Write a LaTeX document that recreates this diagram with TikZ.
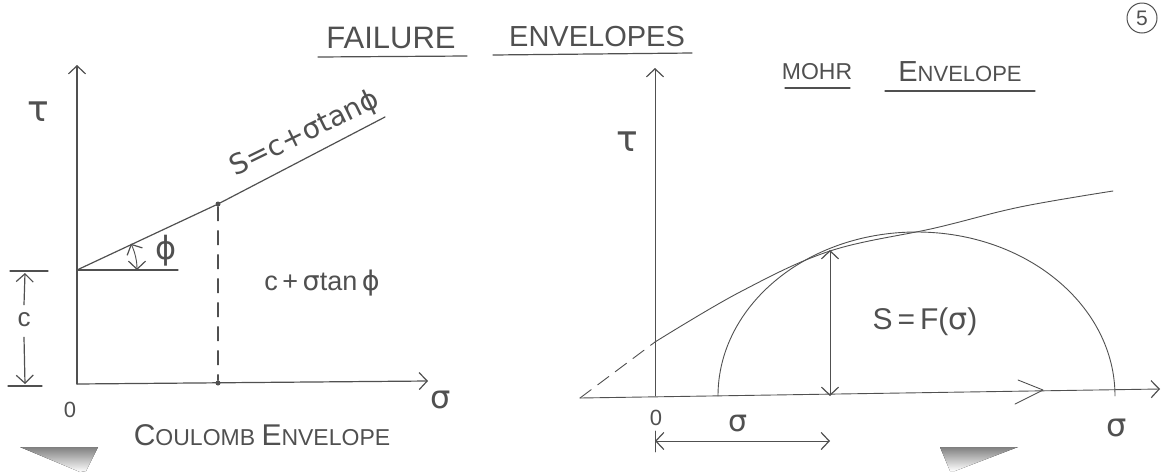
\documentclass[tikz,border=0pt]{standalone}
\usepackage{fontspec}
\setmainfont{Liberation Sans}
\newfontfamily\grk{DejaVu Sans}
\usetikzlibrary{arrows.meta}
\definecolor{ink}{RGB}{80,80,80}
\definecolor{shade}{RGB}{200,200,200}
\newcommand\hsz[1]{\fontsize{#1}{#1}\selectfont}
\begin{document}
\begin{tikzpicture}[x=1pt,y=-1pt,
  pen/.style={draw=ink,line width=1.2pt,line cap=round,line join=round},
  thinpen/.style={draw=ink,line width=0.9pt,line cap=round,line join=round},
  lbl/.style={text=ink,inner sep=0pt},
  >={Straight Barb[length=8pt,width=17pt,line width=1.2pt]},
  dotm/.style={fill=ink,circle,inner sep=0pt,minimum size=5pt}]
\useasboundingbox (0,0) rectangle (1168,472);
% scan shading
\fill[shade] (20,447) -- (98,447) -- (86,471) -- (80,472) -- cycle;
\fill[shade] (940,447) -- (1018,447) -- (955,471) -- (950,471) -- cycle;
% title
\node[lbl,font=\hsz{31}] (fail) at (391,38) {FAILURE};
\node[lbl,font=\hsz{29}] (envs) at (597,37) {ENVELOPES};
\draw[pen] (318,57) -- (467,56);
\draw[pen] (493,55) -- (692,53);
\node[lbl,draw=ink,circle,minimum size=30pt,line width=1pt,font=\hsz{21}] (five) at (1142,18) {5};
% ---------- Coulomb envelope ----------
\coordinate (O1) at (77,384);
\coordinate (Y1) at (77,65);
\coordinate (X1) at (428,381);
\coordinate (C1) at (77,270);
\coordinate (E1) at (385,117);
\coordinate (H1) at (178,270);
\node[dotm] (P1) at (218,204) {};
\node[dotm] (Q1) at (218,383) {};
\draw[pen,->] (O1) -- (Y1);
\draw[pen,->] (O1) -- (X1);
\draw[pen] (C1) -- (P1) -- (E1);
\draw[pen] (C1) -- (H1);
\draw[pen,dash pattern=on 14pt off 10pt] (P1) -- (Q1);
\draw[thinpen,<->] (137,270) arc[start angle=0,end angle=-26,radius=60];
\node[lbl,font=\hsz{32}\grk] (phi1) at (166,251) {ϕ};
\node[lbl,font=\hsz{36}\grk] (tau1) at (38,112) {τ};
\node[lbl,font=\hsz{32}\grk] (sig1) at (441,400) {σ};
\node[lbl,font=\hsz{22}] (zero1) at (70,410) {0};
\node[lbl,font=\hsz{27}] (cts) at (322,283) {c\,+\,{\grk σ}tan\,{\grk ϕ}};
\node[lbl,font=\hsz{28}\grk,rotate=26] (eq1) at (305,134) {S=c+σtanϕ};
\node[lbl,font=\hsz{26}] (cl) at (24,320) {c};
\coordinate (ct) at (10,271);
\coordinate (ct2) at (48,271);
\coordinate (cb) at (8,386);
\coordinate (cb2) at (42,386);
\draw[pen] (ct) -- (ct2);
\draw[pen] (cb) -- (cb2);
\draw[pen,->] (cl.north) ++(0,-8) -- (25,273);
\draw[pen,->] (cl.south) ++(0,10) -- (25,384);
\node[lbl,font=\hsz{23}] (coul) at (262,435) {{\hsz{30}C}OULOMB {\hsz{30}E}NVELOPE};
% ---------- Mohr envelope ----------
\node[lbl,font=\hsz{23}] (mohr) at (817,72) {MOHR};
\node[lbl,font=\hsz{22}] (menv) at (960,72) {{\hsz{29}E}NVELOPE};
\draw[pen] (785,88) -- (850,88);
\draw[pen] (885,91) -- (1035,91);
\coordinate (O2) at (655,396);
\coordinate (Y2) at (655,68);
\coordinate (XL2) at (580,398);
\coordinate (X2) at (1160,389);
\coordinate (A2) at (655,342);
\coordinate (T2) at (830,250);
\coordinate (TB2) at (830,396);
\coordinate (M2) at (718,396);
\draw[thinpen,->] (O2) -- (Y2);
\draw[thinpen,->] (XL2) -- (X2);
\draw[thinpen] (1018,380) -- (1043,390) -- (1015,404);
\draw[thinpen,dash pattern=on 14pt off 8pt] (XL2) -- (A2);
\draw[thinpen] plot[smooth,tension=0.6] coordinates {(655,342) (740,292) (830,251) (935,228) (1020,207) (1113,191)};
\draw[thinpen] (M2) arc[start angle=180,end angle=360,x radius=198.5,y radius=164];
\draw[thinpen,<->] (T2) -- (TB2);
\node[lbl,font=\hsz{30}] (sf) at (925,322) {S\,=\,F({\grk σ})};
\node[lbl,font=\hsz{36}\grk] (tau2) at (627,142) {τ};
\node[lbl,font=\hsz{22}] (zero2) at (656,418) {0};
\node[lbl,font=\hsz{30}\grk] (sig2) at (738,424) {σ};
\node[lbl,font=\hsz{32}\grk] (sig3) at (1117,428) {σ};
\coordinate (dl) at (655,441);
\coordinate (dr) at (830,441);
\draw[thinpen] (655,431) -- (655,452);
\draw[thinpen,<->] (dl) -- (dr);
\end{tikzpicture}
\end{document}
